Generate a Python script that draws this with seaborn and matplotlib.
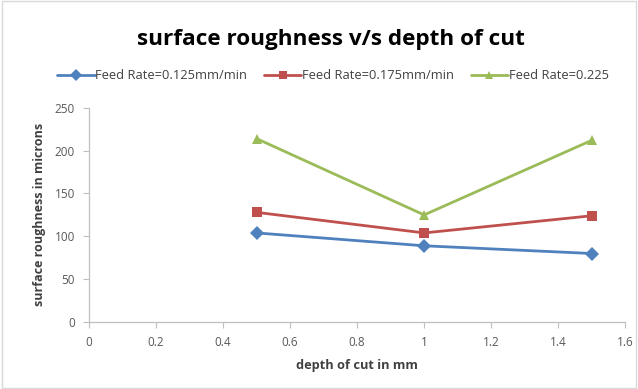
import matplotlib
matplotlib.use("Agg")
import matplotlib.pyplot as plt
from matplotlib.lines import Line2D
import seaborn as sns
import pandas as pd

depth = [0.5, 1.0, 1.5]
rough_125 = [104, 89, 80]
rough_175 = [128, 104, 124]
rough_225 = [214, 125, 212]
series_names = ["Feed Rate=0.125mm/min", "Feed Rate=0.175mm/min", "Feed Rate=0.225"]
colors = ["#4F81BD", "#C0504D", "#9BBB59"]
markers = ["D", "s", "^"]
x_ticks = [0, 0.2, 0.4, 0.6, 0.8, 1, 1.2, 1.4, 1.6]
y_ticks = [0, 50, 100, 150, 200, 250]

rows = []
for name, vals in zip(series_names, [rough_125, rough_175, rough_225]):
    for d, v in zip(depth, vals):
        rows.append({"depth": d, "roughness": v, "series": name})
df = pd.DataFrame(rows)

sns.set_theme(style="white")
plt.rcParams["font.family"] = ["Open Sans", "DejaVu Sans"]

fig = plt.figure(figsize=(6.38, 3.89), dpi=100)
ax = fig.add_axes([0.1395, 0.172, 0.8405, 0.551])

sns.lineplot(data=df, x="depth", y="roughness", hue="series", style="series",
             palette=colors, markers=markers, dashes=False, markersize=7,
             markeredgewidth=0, linewidth=2, ax=ax, legend=False)

ax.set_xlim(0, 1.6)
ax.set_ylim(0, 250)
ax.set_xticks(x_ticks)
ax.set_xticklabels([f"{t:g}" for t in x_ticks])
ax.set_yticks(y_ticks)
for sp in ["top", "right"]:
    ax.spines[sp].set_visible(False)
for sp in ["left", "bottom"]:
    ax.spines[sp].set_color("#BFBFBF")
    ax.spines[sp].set_linewidth(0.9)
ax.tick_params(axis="both", which="major", length=4, width=0.8, color="#BFBFBF",
               labelsize=8.5, labelcolor="#595959", direction="out", pad=6)
ax.tick_params(bottom=True, left=True)

ax.set_xlabel("depth of cut in mm", fontsize=9.2, fontweight="bold", color="#404040", labelpad=7)
ax.set_ylabel("surface roughness in microns", fontsize=9, fontweight="bold", color="#404040", labelpad=6)

fig.text(0.518, 0.898, "surface roughness v/s depth of cut", ha="center", va="center",
         fontsize=16.2, fontweight="bold", color="black")

handles = [Line2D([], [], color=c, marker=m, markersize=6, markeredgewidth=0, linewidth=2)
           for c, m in zip(colors, markers)]
fig.legend(handles, series_names, loc="center", bbox_to_anchor=(0.522, 0.805), ncol=3,
           frameon=False, fontsize=9.3, handlelength=2.9, handletextpad=0.05,
           columnspacing=1.3, labelcolor="#404040")

border = plt.Rectangle((0.003, 0.003), 0.994, 0.994, transform=fig.transFigure,
                       fill=False, edgecolor="#D9D9D9", linewidth=1)
fig.patches.append(border)

fig.savefig("out.png", dpi=100)
